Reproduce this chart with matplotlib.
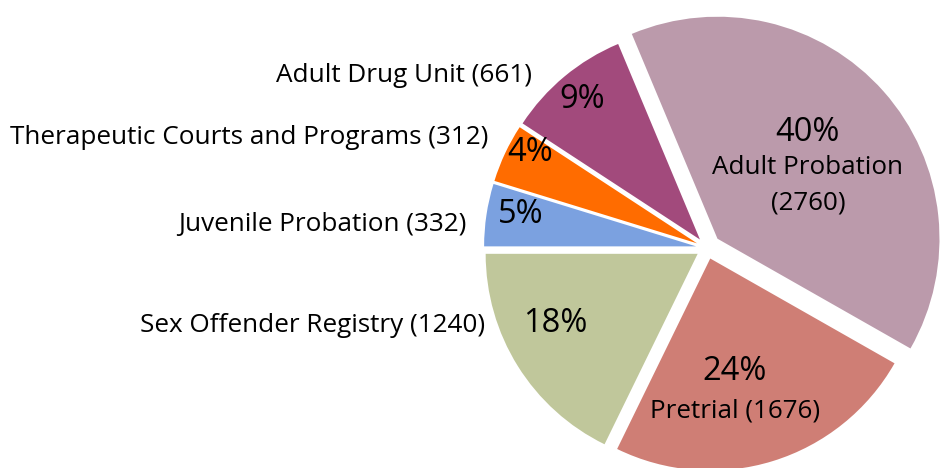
import numpy as np
import matplotlib.pyplot as plt

names = ["Adult Probation", "Pretrial", "Sex Offender Registry",
         "Juvenile Probation", "Therapeutic Courts and Programs", "Adult Drug Unit"]
counts = [2760, 1676, 1240, 332, 312, 661]
pct_text = ["40%", "24%", "18%", "5%", "4%", "9%"]
colors = ["#bb9aab", "#cf7e75", "#c0c79b", "#7ba1e0", "#ff6c00", "#a24a7c"]

plt.rcParams['font.family'] = ['Open Sans', 'DejaVu Sans']

W, H = 943, 468
fig = plt.figure(figsize=(W / 100, H / 100), dpi=100)
ax = fig.add_axes([0, 0, 1, 1])

cx, cy, r = 707, H - 248, 212
start = 180 - 360 * sum(counts[3:]) / sum(counts)
wedges, _ = ax.pie(counts, colors=colors, startangle=start, counterclock=False,
                   center=(cx, cy), radius=r, explode=[14, 11, 11, 11, 11, 11],
                   wedgeprops=dict(linewidth=0), frame=True)
wedges[0].set_radius(222)  # the big slice sticks out a bit more
ax.set_xlim(0, W)
ax.set_ylim(0, H)
ax.set_aspect('equal')
ax.axis('off')

# inside text: distance (fraction of radius) and angle tweak from the mid angle
inner_dist = [0.517, 0.636, 0.748, 0.839, 0.898, 0.862]
inner_adj = [-3.5, -6.6, -6, -1.6, -3.5, 0.4]
for i, w in enumerate(wedges):
    mid = np.deg2rad((w.theta1 + w.theta2) / 2 + inner_adj[i])
    x = w.center[0] + inner_dist[i] * w.r * np.cos(mid)
    y = w.center[1] + inner_dist[i] * w.r * np.sin(mid)
    if i == 0:
        ax.text(x, y + 35, pct_text[i], ha='center', va='center', fontsize=23.5)
        ax.text(x, y, names[i], ha='center', va='center', fontsize=18.7)
        ax.text(x, y - 35, f"({counts[i]})", ha='center', va='center', fontsize=18.7)
    elif i == 1:
        ax.text(x, y + 20, pct_text[i], ha='center', va='center', fontsize=23.5)
        ax.text(x, y - 20, f"{names[i]} ({counts[i]})", ha='center', va='center', fontsize=18.7)
    else:
        ax.text(x, y, pct_text[i], ha='center', va='center', fontsize=23.5)

# outside labels for the small wedges
out_pos = {2: (485, 325), 3: (466, 225), 4: (488, 138), 5: (532, 75)}
for i, (x, y) in out_pos.items():
    ax.text(x, H - y, f"{names[i]} ({counts[i]})", ha='right', va='center', fontsize=18.8)

fig.savefig("out.png", dpi=100)
